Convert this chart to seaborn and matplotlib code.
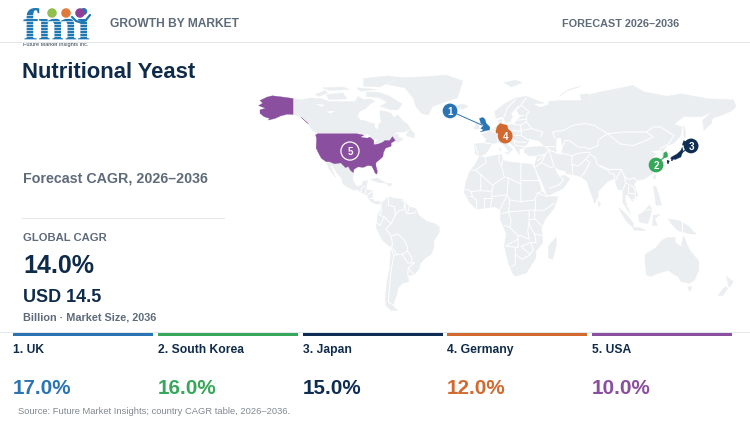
import matplotlib
matplotlib.use("Agg")
import matplotlib.pyplot as plt
import seaborn as sns
import pandas as pd
from matplotlib.patches import Polygon, Rectangle, Ellipse
from matplotlib.lines import Line2D

sns.set_theme(style="white")
plt.rcParams["font.family"] = ["Liberation Sans", "DejaVu Sans"]

# ---------- data ----------
markets = ["UK", "South Korea", "Japan", "Germany", "USA"]
cagr = [17.0, 16.0, 15.0, 12.0, 10.0]
ranks = [1, 2, 3, 4, 5]
market_colors = ["#2b74b4", "#37a85b", "#0f2d52", "#d2692f", "#8a4f9e"]
badge_lon = [-27.3, 122.0, 147.4, 12.7, -99.8]
badge_lat = [62.4, 30.6, 41.8, 47.6, 38.8]
target_lon = [-4.0, 127.5, 139.3, 10.0, -99.8]
target_lat = [54.0, 35.0, 37.0, 51.0, 38.8]

global_cagr = "14.0%"
market_size = "USD 14.5"

north_america = [(-166,65.5),(-163,67),(-165,68.5),(-160,70.5),(-156,71.3),(-148,70.5),(-141,69.7),(-135,69),(-128,70),(-120,69.5),(-115,68),(-108,68),(-100,68),(-96,68),(-94,71),(-90,69),(-85,69.5),(-82,68),(-86,66),(-88,64),(-93,62),(-94.5,59),(-92,57),(-88,56.5),(-85,55.3),(-82,55),(-82,53),(-80,51.5),(-79,52),(-79,54.5),(-77,56),(-78,59),(-78,62.5),(-73,62),(-70,61),(-68,58.5),(-65,60),(-62,57),(-58,54.5),(-56,52),(-60,50),(-66,50),(-69,48),(-65,49),(-64.5,47),(-61,46),(-65,43.8),(-67,45),(-70,43.5),(-70,41.7),(-74,40.5),(-75.5,38),(-76,35.5),(-78,34),(-81,32),(-81,30),(-80,27),(-80.3,25.2),(-81.5,25.8),(-82.7,28),(-84,30),(-87,30.3),(-90,29.2),(-94,29.5),(-97,28),(-97.5,25),(-97.8,22),(-96,19),(-94,18),(-91,18.7),(-90.5,21),(-87,21.5),(-88,18),(-88.5,16),(-84,15.8),(-83.3,14),(-83.7,11),(-82,9),(-79.5,9.5),(-77.5,8.6),(-78,7.5),(-80,7.5),(-83,8.2),(-85.7,10),(-87.5,13),(-91,14),(-94,16),(-97,15.8),(-101,17.3),(-105,19.5),(-106,23),(-109,25.5),(-112.5,30),(-114.7,31.5),(-113,28),(-110,23),(-112,25),(-115,28.5),(-117,32.5),(-120.5,34.5),(-122.5,37.5),(-124.3,40.5),(-124,46),(-123,49),(-127,51),(-130,54.5),(-134,58),(-139,60),(-145,60.5),(-150,59.5),(-154,58),(-159,57),(-158,58),(-162,59),(-165,61),(-165,63),(-161,64)]
south_america = [(-77,8),(-72,12),(-68,11),(-62,10.5),(-57,6),(-52,5),(-50,1),(-44,-2.5),(-38,-4),(-35,-6),(-35,-9),(-39,-14),(-39,-18),(-41,-22),(-45,-24),(-48.5,-27),(-50,-31),(-53.5,-34),(-58,-34.5),(-57,-38),(-62,-39),(-65,-42),(-66,-46),(-68,-50),(-68,-53),(-65,-55),(-70,-55),(-74,-52),(-74,-45),(-73,-38),(-71,-30),(-70,-18),(-76,-14),(-81,-6),(-80,-2.5),(-80,1),(-77.5,4)]
africa = [(-6,35.8),(-2,35),(10,37),(11,33.5),(15,32.5),(20,32),(25,31.7),(32,31),(34,28),(37,21),(39,15.5),(43,12),(51,12),(48,5),(42,-1),(39,-6),(40,-15),(35,-20),(35,-24),(32.5,-27),(28,-33),(20,-34.8),(18,-33),(15,-27),(12,-17),(13.5,-10),(9,-1),(9.5,4),(5,6),(-4,5),(-8,4.5),(-13,8.5),(-17,14.5),(-16,20),(-13,27),(-9,31)]
eurasia = [(-9,37),(-9.5,43),(-2,43.5),(-1,46),(-4.5,48.5),(2,51),(4,52),(8,54),(8,57),(10.5,57.5),(10,54),(14,54),(19,54.5),(21,57),(24,59),(29,60),(23,60),(21,63),(25,65.5),(22,65.5),(17,61),(18,59),(16,56),(13,55.5),(11,59),(6,58),(5,62),(13,67),(20,70),(28,71),(41,67),(33,66.5),(38,64.5),(44,66),(44,68),(54,68.5),(68,68.5),(67,72),(73,72.5),(75,68),(74,72),(81,73.5),(100,76.5),(105,77.5),(113,73.7),(130,71),(140,72.5),(160,69.5),(178,69),(180,65),(177,62.5),(170,60),(163,58),(162,55),(156.7,51),(155.7,57),(163,62),(155,59),(142,59),(135,54.5),(141,53),(140,48),(135,43.5),(130,42),(127.5,39.8),(129.4,37),(129,35.2),(126.4,34.5),(126.7,37.5),(125,39.5),(121.5,39),(118,39),(122,37),(119.5,35),(122,31),(120,26),(114,22.5),(108,21.5),(106,19),(109,13),(105,9),(102,12.5),(100,13.5),(99.5,10),(103.5,1.5),(100.5,5),(98,8.5),(98,16),(94.5,16),(91.5,22.5),(87,21),(80,15),(80,12),(77.5,8),(73,18),(72,21),(68,23.5),(62,25),(57,25.5),(56.5,27),(51,28),(48,30),(50,26),(52,24),(56,24.5),(59.5,22.5),(55,17),(45,13),(43,13),(39,21),(35,28),(34,31),(36,36),(30,36),(26.5,38),(26.5,40),(29,41),(36,41.5),(41.5,41.5),(37,45),(33,45.5),(30.5,46),(28,42),(26,40.5),(23,40),(23,36.5),(19.5,41),(14,45.5),(12.5,44),(18,40),(16,38),(11,43),(8,44),(3,43),(0,39),(-2,36.8),(-5.5,36)]
greenland = [(-73,78),(-60,76),(-54,70),(-52,65),(-48,61),(-43,60),(-40,65),(-30,68),(-22,70),(-20,75),(-18,80),(-30,83.5),(-45,82.5),(-62,82)]
australia = [(114,-22),(122,-18),(126,-14),(130,-12),(136,-12),(136,-15),(140,-17.5),(142,-11),(146,-19),(153,-26),(153,-31),(150,-37),(146,-39),(140,-38),(138,-35),(135,-34),(131,-31.5),(124,-33),(118,-35),(115,-34),(114,-26)]
islands = [
    [(-80,73.5),(-72,71.5),(-67,69),(-62,66.5),(-65,63),(-70,63),(-75,64.5),(-78,65),(-73,67.5),(-78,70),(-88,71),(-88,73.5)],
    [(-117,72),(-105,73),(-102,69.5),(-115,69)],
    [(-90,77),(-78,76.5),(-72,79),(-62,82),(-72,83),(-90,81.5)],
    [(-125,72),(-118,74.5),(-116,73),(-122,71)],
    [(-95,76),(-80,75),(-92,74)],
    [(-120,76),(-105,76.5),(-100,75),(-115,74.5)],
    [(-59,47.7),(-53,46.7),(-53,49),(-56,51.5),(-58,50)],
    [(-24,65.5),(-18,66.4),(-14,65),(-18,63.4),(-22,64)],
    [(49.5,-12),(50,-16),(47,-25),(44,-24),(44,-17)],
    [(-10,52),(-6,52),(-6,55),(-8.5,55)],
    [(142,54),(143.5,50),(143,46),(142,48)],
    [(109,1),(113,3),(117,7),(119,5),(118,1),(116,-4),(110,-3)],
    [(95,5.5),(100,2),(106,-4),(105,-6),(101,-3),(97,2)],
    [(105,-6),(111,-6.5),(114.5,-8),(106,-7.7)],
    [(119.5,-5),(120,1),(125,1.5),(121,-1),(123,-5)],
    [(131,-1),(138,-2),(145,-5),(151,-10),(147,-10),(142,-9),(138,-8),(133,-4)],
    [(120,18),(122,18),(124,13),(126,7),(122,7),(121,13)],
    [(120,23),(121,25),(122,24),(121,22)],
    [(80,9.5),(82,7.5),(80.5,6)],
    [(145,-41),(148,-41),(147,-43.5),(146,-43.5)],
    [(173,-35),(178,-38),(175,-41.5),(174,-39)],
    [(172,-41),(174,-42),(170,-46.5),(167,-46)],
    [(-85,22),(-80,23),(-74,20),(-78,20)],
    [(-74,20),(-69,19.5),(-71,18)],
    [(52,71),(57,74),(68,77),(60,75.5),(55,73)],
    [(12,79),(20,80.5),(25,79),(17,76.5)],
    [(9,41),(9.5,39),(8.3,39)],
    [(12.5,38),(15.5,38),(15,36.8)],
]
lakes = [
    [(-92,47),(-88,48.8),(-85,47.5),(-87,46.5)],
    [(-87.5,46),(-85,46),(-86,42),(-87.5,42)],
    [(-84,46),(-80,45.5),(-82,43.2),(-83.5,44)],
    [(-83,42),(-79,43),(-79,42.8),(-82,41.5)],
    [(-125,66.5),(-118,66),(-120,65)],
    [(-117,62),(-110,62.5),(-114,61)],
    [(50,46),(53,46.5),(54,40),(53,37),(50,37.5),(49.5,41)],
]
usa = [(-124.7,48.4),(-123,49),(-95,49),(-89,48),(-84.5,46.5),(-82.5,45),(-82.5,42.5),(-79,43),(-76,44),(-74.5,45),(-71,45),(-69,47.3),(-67,45),(-70,43.5),(-70,41.7),(-74,40.5),(-75.5,38),(-76,35.5),(-78,34),(-81,32),(-81,30),(-80,27),(-80.3,25.2),(-81.5,25.8),(-82.7,28),(-84,30),(-87,30.3),(-90,29.2),(-94,29.5),(-97,28),(-97.3,26),(-99.5,27.5),(-101,29.7),(-103,29),(-106.5,31.8),(-111,31.3),(-114.7,32.5),(-117,32.5),(-120.5,34.5),(-122.5,37.5),(-124.3,40.5),(-124,46)]
alaska = [(-166,65.5),(-163,67),(-165,68.5),(-160,70.5),(-156,71.3),(-148,70.5),(-141,69.7),(-141,60.3),(-145,60.5),(-150,59.5),(-154,58),(-159,57),(-158,58),(-162,59),(-165,61),(-165,63),(-161,64)]
panhandle = [(-134.5,58),(-130,55),(-131,55.5),(-135,58.6)]
great_britain = [(-5.5,50),(1.5,51.3),(1.5,53),(-1,55),(-2,57.5),(-3.5,58.6),(-6,58),(-5,55),(-3,54),(-5,52),(-3,51.3)]
germany = [(6,51),(7,53.5),(9,55),(14,54),(15,51),(12.5,50),(13.7,48.7),(10,47.4),(7.5,47.6),(8,49),(6,49.5)]
south_korea = [(127.2,34.5),(127.7,37.7),(129.4,38.5),(130.4,37),(130.3,35.3)]
japan = [
    [(132.5,34.3),(136,33.8),(140,35.3),(141.6,39),(141,41),(139.8,39),(137,37),(133,35.2)],
    [(130,33.5),(131.6,33),(131,31.3),(130,31.6)],
    [(133,34),(134.4,34.1),(134,33.2),(133,33)],
    [(141,42.3),(142,45),(145,43.6),(143,42.2)],
]
borders = [
    [(-117,49),(-95,49)],[(-141,69.7),(-141,60.3)],
    [(-117,32.5),(-106.5,31.8),(-101,29.7),(-97.3,26)],[(-92,14.5),(-91,17.5),(-89,18)],[(-89,14),(-88,16)],[(-87,13),(-84,15)],[(-85.7,11),(-83.7,11)],
    [(-72,12),(-72,7),(-67.5,6),(-67,1),(-70,-4),(-74,-7),(-70,-11),(-69,-16),(-70,-18)],
    [(-77.5,8),(-77,3),(-78.5,1),(-75,0),(-70,-4)],[(-80,-3.5),(-78,-5),(-75,0)],
    [(-62,10),(-60,8),(-61,4),(-64,4),(-67,1)],[(-57,6),(-58,2),(-55,2),(-52,3)],[(-60,8),(-59,2)],
    [(-69,-11),(-65,-10),(-60,-14),(-58,-18),(-58,-20),(-62,-22),(-66,-22),(-69,-18)],
    [(-58,-20),(-55,-24),(-55,-27),(-58,-27),(-62,-22)],[(-55,-27),(-53,-27),(-57.5,-30),(-58,-34)],[(-57.5,-30),(-53.5,-34)],
    [(-70,-18),(-68,-23),(-70,-31),(-71,-40),(-72,-50),(-68,-52)],[(-68,-23),(-66,-22)],
    [(-2,35),(-1,32),(-9,27.5),(-13,27.7)],[(-9,27.5),(-5,25),(3,19),(4,19),(12,23.5),(10,30),(8,33),(8.5,37)],[(10,30),(11,33.5)],
    [(12,23.5),(15,23),(24,19.5),(24,31.7)],[(24,22),(37,22)],[(-16,16.5),(-12,15),(-5,15.5),(-5,25)],[(-12,15),(-11,12),(-13,12)],
    [(-5,15.5),(3,15),(4,19)],[(3,15),(3,11),(2,6)],[(3,12),(14,13),(15,23)],[(14,13),(9,4.5)],[(-8,4.5),(-8,10),(-11,12)],[(-3,5),(-3,11),(3,11)],
    [(14,13),(16,10),(24,9),(24,19.5)],[(16,10),(15,3),(10,2)],[(15,3),(30,4),(34,4),(41,4),(48,8)],[(24,9),(34,10),(36,14),(39,15)],[(34,10),(34,4)],[(36,14),(43,12)],
    [(30,4),(30,-3),(29,-8),(30,-13),(24,-11),(22,-11),(22,-13),(13,-17)],[(12,-5),(16,-6),(22,-11)],[(15,3),(17,-2),(16,-6)],
    [(34,4),(34,-1),(39,-5)],[(34,-1),(30,-1)],[(30,-3),(31,-6),(34,-10),(40,-11)],[(34,-10),(35,-15),(31,-15),(24,-17.5)],[(22,-13),(22,-18),(13,-17)],
    [(20,-18),(20,-28),(17,-29)],[(20,-22),(25,-25),(31,-22),(33,-19),(31,-15)],[(25,-18),(31,-22)],
    [(-9,42),(-7,37)],[(-2,43.5),(3,43)],[(2,51),(6,49.5),(8,49),(7.5,47.6),(7,44)],[(6,51),(4,52)],[(10,47.4),(13.7,46.5),(14,45.5)],[(13.7,48.7),(17,48),(22,48),(24,48),(28,46)],[(15,51),(24,50.5),(24,54),(19,54.5)],[(24,50.5),(24,48)],[(17,48),(16,46),(19,45),(22.5,44),(28,44)],[(19,45),(20,42)],[(20,42),(26,41.5)],
    [(28,46),(30.5,46)],[(24,54),(28,56),(28,60)],[(24,51),(32,52),(40,50),(38,47)],[(28,56),(32,52)],[(21,57),(28,57.5)],[(12,59),(14,64),(20,69)],[(24,66),(28,70)],[(24,66),(30,62),(28,60)],
    [(26,41),(28,42)],[(36,36),(42,37),(44.5,39.5),(41.5,41.5)],[(36,33),(42,37)],[(35,29.5),(39,32),(46,29),(48,30)],[(39,32),(42,37)],[(44.5,39.5),(46,35),(48,30)],[(45,17),(52,19),(55,22),(52,24)],[(44.5,39.5),(49,38)],[(41.5,41.5),(48,41.5)],
    [(49,46),(47,50),(55,51),(62,54),(70,55),(77,54),(83,51),(87,49)],[(87,49),(98,50),(105,50),(115,50),(120,53),(125,53),(135,48),(131,43),(130,42)],[(87,49),(96,43),(105,42),(112,44),(120,47),(115,50)],
    [(54,41),(56,45),(59,45),(66,41),(70,41),(74,40),(80,42),(80,45),(83,47),(87,49)],[(54,37.5),(61,36),(66,37.5),(71,38),(74,38)],[(61,36),(61,31),(66,30),(71,34),(74,37)],[(61,31),(61,26)],[(49,38),(54,37)],
    [(71,34),(74,32),(70,26),(68,24)],[(74,37),(78,35),(79,31),(88,28),(92,28),(97,28)],[(81,30),(88,27)],[(88,26),(92,25),(92,22)],[(97,28),(94,24),(92.5,21)],[(97,28),(99,24),(102,22),(106,23),(108,21.5)],[(99,24),(100,20),(98,16)],[(100,20),(105,18),(107,16),(107,11),(105,10)],[(102,18),(102,14),(106,14)],
    [(124.5,40),(130,42.5)],[(125,38),(128.4,38.5)],[(100.3,6.5),(102,6)],[(115,4),(118,4.5)],[(141,-2.5),(141,-9)],
]

# ---------- pixel frame of the picture ----------
W, H = 750, 421
fig = plt.figure(figsize=(W / 100, H / 100), dpi=100, facecolor="white")

def px(x, y):
    return x / W, 1 - y / H

LAND = "#ebeef0"
# The map axes cover the whole figure; limits set the lon/lat frame.
ax = fig.add_axes([0, 0, 1, 1])
ax.set_xlim((0 - 487.7) / 1.38, (W - 487.7) / 1.38)
ax.set_ylim((217 - H) / 1.7, 217 / 1.7)
ax.axis("off")

for shape in [north_america, south_america, africa, eurasia, greenland, australia] + islands:
    ax.add_patch(Polygon(shape, closed=True, fc=LAND, ec=LAND, lw=0.3, zorder=1))
for shape in lakes:
    ax.add_patch(Polygon(shape, closed=True, fc="white", ec="none", zorder=1.5))
for line in borders:
    xs, ys = zip(*line)
    ax.plot(xs, ys, color="white", lw=0.7, zorder=2, solid_capstyle="round")

highlight = [(usa, 4), (alaska, 4), (panhandle, 4), (great_britain, 0), (germany, 3), (south_korea, 1)] + [(p, 2) for p in japan]
for shape, idx in highlight:
    ax.add_patch(Polygon(shape, closed=True, fc=market_colors[idx], ec=market_colors[idx], lw=0.2, zorder=3))
# Great Lakes bite on the USA outline
ax.add_patch(Polygon(lakes[0], closed=True, fc="white", ec="none", zorder=3.2))

# ---------- badges ----------
for i in range(3):
    ax.plot([badge_lon[i], target_lon[i]], [badge_lat[i], target_lat[i]], color=market_colors[i], lw=0.7, zorder=4)

badges = pd.DataFrame({"lon": badge_lon, "lat": badge_lat, "market": markets})
sns.scatterplot(data=badges, x="lon", y="lat", hue="market", palette=dict(zip(markets, market_colors)),
                s=113, edgecolor="none", legend=False, ax=ax, zorder=5)
ax.set_xlabel("")
ax.set_ylabel("")
ax.scatter([badge_lon[4]], [badge_lat[4]], s=170, facecolor="none", edgecolor="white", linewidth=0.9, zorder=6)
for r, lon, lat in zip(ranks, badge_lon, badge_lat):
    ax.text(lon, lat, str(r), color="white", fontsize=7, fontweight="bold", ha="center", va="center_baseline", zorder=7)

# ---------- text helpers: y is the text baseline, in picture pixels ----------
def T(x, y, s, size, color, weight="bold", **kw):
    fx, fy = px(x, y)
    fig.text(fx, fy, s, fontsize=size, color=color, fontweight=weight, va="baseline", ha="left", **kw)

def R(x0, y0, x1, y1, color, z=8, alpha=1.0):
    fx, fy = px(x0, y1)
    fig.add_artist(Rectangle((fx, fy), (x1 - x0) / W, (y1 - y0) / H, transform=fig.transFigure,
                             fc=color, ec="none", zorder=z, alpha=alpha))

NAVY = "#0f2b4a"
GRAY = "#5f6b7a"
R(0, 42, W, 43, "#e2e6eb")
T(110, 27.3, "GROWTH BY MARKET", 8.65, GRAY)
T(562, 27, "FORECAST 2026\u20132036", 7.85, GRAY)
T(22, 78.3, "Nutritional Yeast", 15.8, NAVY)
T(23, 182.8, "Forecast CAGR, 2026\u20132036", 10.3, GRAY)
R(22, 218, 225, 219, "#e4e7eb")
T(23, 241.3, "GLOBAL CAGR", 8.1, GRAY)
T(23, 273.3, global_cagr, 18, NAVY)
T(23, 302.3, market_size, 13, NAVY)
T(23, 320, "Billion \u00b7 Market Size, 2036", 7.85, GRAY)

# ---------- bottom strip ----------
R(0, 332, W, 333, "#e4e7eb")
strip_x = [13, 158, 303, 447, 592]
for r, name, val, col, x in zip(ranks, markets, cagr, market_colors, strip_x):
    R(x, 333, x + 140, 336, col, z=9)
    T(x, 353.3, f"{r}. {name}", 8.7, NAVY)
    T(x, 394, f"{val:.1f}%", 14.9, col)
T(18, 414, "Source: Future Market Insights; country CAGR table, 2026\u20132036.", 6.77, "#808890", weight="normal")

# ---------- logo ----------
logo_blue = "#1f78b4"
T(23, 40, "fmi", 34, logo_blue, family="Liberation Serif")
for yy in range(15, 41, 3):
    R(22, yy, 92, yy + 0.8, "white", z=10, alpha=0.65)
for cx, col in zip([52, 66, 80], ["#8fbf4d", "#e07a3a", "#8e3f96"]):
    fig.add_artist(Ellipse(px(cx, 13), width=9.5 / W, height=9.5 / H, transform=fig.transFigure,
                           fc=col, ec="none", zorder=11))
swoosh_x = [72, 76, 81, 86, 90]
swoosh_y = [17, 21, 22.5, 20, 15]
fig.add_artist(Line2D([px(a, b)[0] for a, b in zip(swoosh_x, swoosh_y)],
                      [px(a, b)[1] for a, b in zip(swoosh_x, swoosh_y)],
                      transform=fig.transFigure, color=logo_blue, lw=1.6, zorder=11))
T(23, 46, "Future Market Insights Inc.", 4.0, "#33414f", weight="normal")

fig.savefig("out.png", dpi=100, facecolor="white")
